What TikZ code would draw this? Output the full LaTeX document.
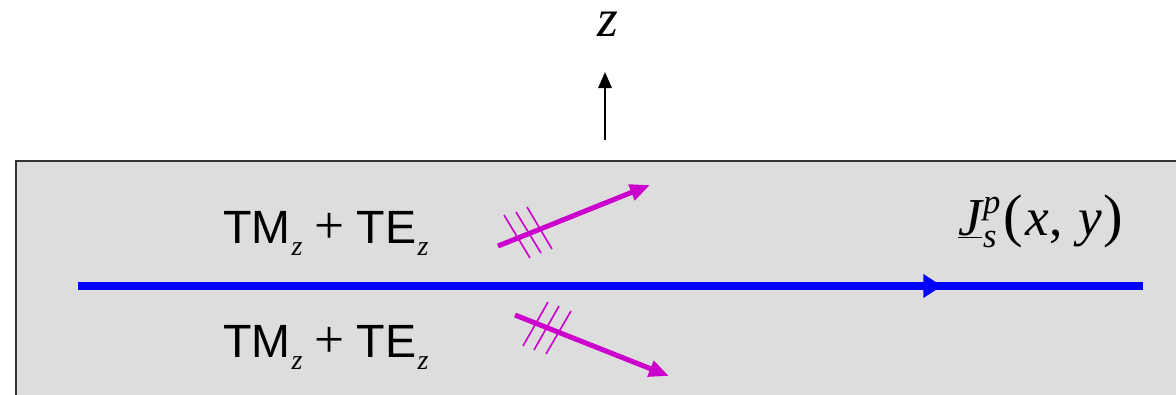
\documentclass[tikz,border=0pt]{standalone}
\usepackage{fontspec}
\setmainfont{Liberation Serif}
\setsansfont{Liberation Sans}
\usetikzlibrary{arrows.meta,positioning,calc}
\definecolor{slabgray}{RGB}{221,221,221}
\definecolor{mymagenta}{RGB}{204,0,204}
\newcommand{\subz}{\kern1pt\raisebox{-9pt}{\fontsize{21}{21}\selectfont\itshape z}}
\newcommand{\modesum}{{\fontsize{35}{40}\selectfont\sffamily TM}\subz\hspace{9pt}{\fontsize{40}{40}\selectfont +}\hspace{9pt}{\fontsize{35}{40}\selectfont\sffamily TE}\subz}
\newcommand{\smallit}[1]{{\fontsize{26}{26}\selectfont\itshape #1}}
\newcommand{\bigparen}[1]{{\fontsize{44}{44}\selectfont #1}}

\begin{document}
\begin{tikzpicture}[x=0.75pt,y=-0.75pt,every node/.style={inner sep=0pt,outer sep=0pt}]
\tikzstyle{lbl}=[anchor=base west]
\tikzstyle{wave}=[mymagenta,line width=3.75pt,-{Triangle[length=15pt,width=12pt]}]
\tikzstyle{hatch}=[mymagenta,line width=1.2pt]
\useasboundingbox (0,0) rectangle (1176,394);
\draw[fill=slabgray,draw=black!80,line width=1.5pt] (16,160.5) rectangle (1190,410);
% axis
\coordinate (zb) at (605,140);
\coordinate (zt) at (605,72);
\draw[line width=1.5pt,-{Triangle[length=12pt,width=10pt]}] (zb)--(zt);
\node[lbl,text height=0.45em](zlbl) at (597,36){\fontsize{40}{40}\selectfont\itshape z};
% source line
\coordinate (jl) at (78,286);
\coordinate (jr) at (1143,286);
\coordinate (ja) at (942,286);
\draw[blue,line width=6pt] (jl)--(jr);
\draw[blue,line width=6pt,-{Triangle[length=14pt,width=17pt]}] (jl)--(ja);
\node[lbl](jsp) at (958,235){\fontsize{40}{46}\selectfont\underline{\itshape J}\kern1pt\rlap{\raisebox{16pt}{\smallit{p}}}\raisebox{-9pt}{\smallit{s}}\kern5pt\bigparen{(}\kern2pt\textit{x}, \kern2pt\textit{y}\kern1pt\bigparen{)}};
% modes
\node[lbl](tm1) at (223,243){\modesum};
\node[lbl](tm2) at (223,357){\modesum};
% upgoing wave
\coordinate (u1) at (498,246);
\coordinate (u2) at (650,185);
\draw[wave] (u1)--(u2);
\draw[hatch] (504,215)--(530,258) (516,212)--(541,253) (527,207)--(552,249);
% downgoing wave
\coordinate (d1) at (515,315);
\coordinate (d2) at (669,376);
\draw[wave] (d1)--(d2);
\draw[hatch] (548,302)--(523,346) (559,306)--(534,350) (571,311)--(546,354);
\end{tikzpicture}
\end{document}
